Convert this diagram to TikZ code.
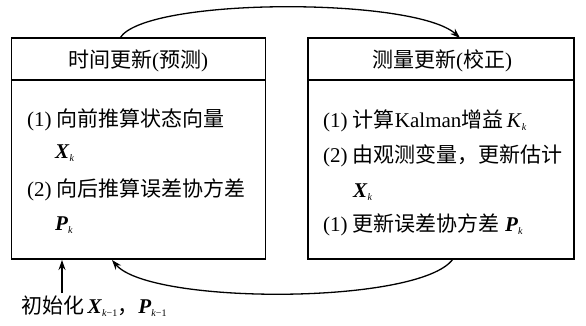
\documentclass[tikz,border=0pt]{standalone}
\usepackage{fontspec}
\setmainfont{Liberation Serif}
\newfontfamily\cjk{Noto Sans CJK SC}
\usetikzlibrary{arrows.meta}
\newcommand\sbk[1]{\raisebox{-0.4ex}{\fontsize{10}{10}\selectfont #1}}
\newcommand\bv[2]{\textbf{\textit{#1}}\sbk{#2}}
\begin{document}
\begin{tikzpicture}[x=1pt,y=-1pt,
  box/.style={draw,line width=1.3pt,minimum width=254pt,minimum height=221pt,inner sep=0pt},
  txt/.style={anchor=base west,inner sep=0pt,font=\fontsize{21}{24}\selectfont},
  head/.style={anchor=base,inner sep=0pt,font=\fontsize{21}{24}\selectfont},
  conn/.style={line width=1.3pt,-{Stealth[length=10pt,width=7pt]}}]
\useasboundingbox (0,0) rectangle (586,325);
% boxes
\node[box] (L) at (138.5,148.5) {};
\node[box,minimum width=266pt] (R) at (441,148.5) {};
\draw[line width=1.3pt] (L.west |- 0,80) -- (L.east |- 0,80);
\draw[line width=1.3pt] (R.west |- 0,80) -- (R.east |- 0,80);
% headers
\node[head] (Lh) at (138,67) {{\cjk 时间更新}({\cjk 预测})};
\node[head] (Rh) at (442,67) {{\cjk 测量更新}({\cjk 校正})};
% left content
\node[txt] (l1) at (27,126) {(1) {\cjk 向前推算状态向量}};
\node[txt] (l2) at (55,158) {\bv{X}{\itshape k}};
\node[txt] (l3) at (27,196) {(2) {\cjk 向后推算误差协方差}};
\node[txt] (l4) at (55,230) {\bv{P}{\itshape k}};
% right content
\node[txt] (r1) at (323,127) {(1) {\cjk 计算}Kalman{\cjk 增益}\,\textit{K}\sbk{\itshape k}};
\node[txt] (r2) at (323,162) {(2) {\cjk 由观测变量，更新估计}};
\node[txt] (r3) at (353,197) {\bv{X}{\itshape k}};
\node[txt] (r4) at (323,231) {(1) {\cjk 更新误差协方差} \bv{P}{\itshape k}};
% init
\node[txt] (init) at (21,313) {{\cjk 初始化}\,\bv{X}{\textit{k}−1}{\cjk ，}\bv{P}{\textit{k}−1}};
% connectors
\coordinate (a0) at (120,38);
\coordinate (a1) at (460,38);
\coordinate (b0) at (453,259);
\coordinate (b1) at (112,260);
\coordinate (c0) at (62,293);
\coordinate (c1) at (62,260);
\draw[conn] (a0) .. controls (145,-3) and (415,-3) .. (a1);
\draw[conn] (b0) .. controls (420,305) and (150,305) .. (b1);
\draw[conn] (c0) -- (c1);
\end{tikzpicture}
\end{document}
